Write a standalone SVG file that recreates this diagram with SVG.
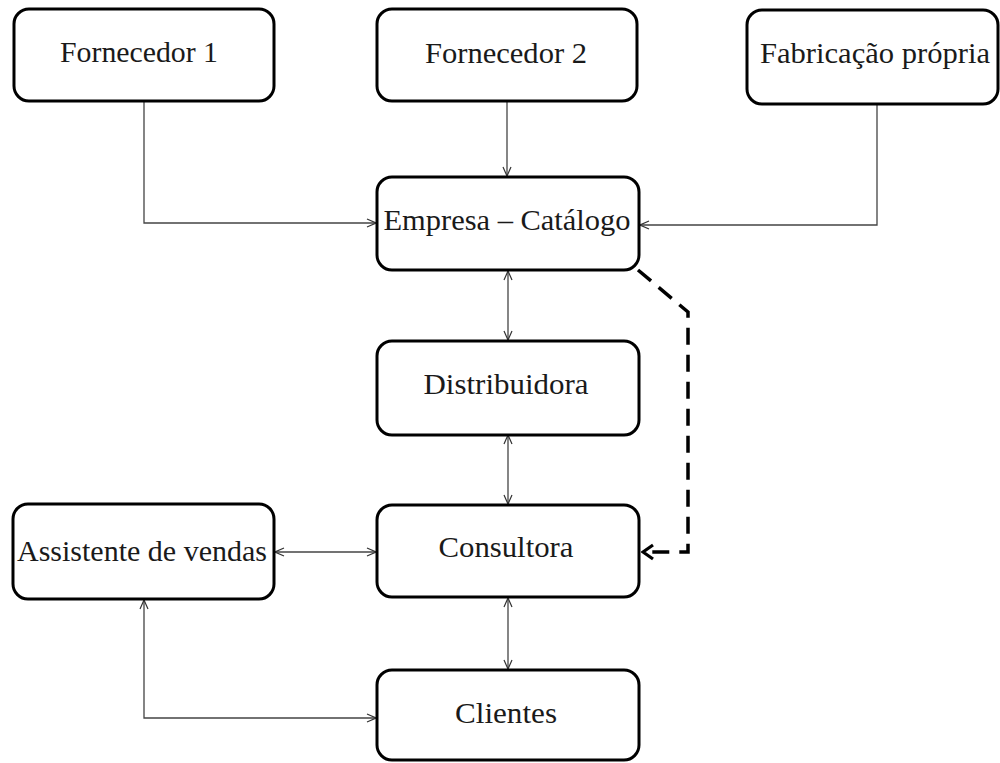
<svg xmlns="http://www.w3.org/2000/svg" width="1000" height="763" viewBox="0 0 1000 763">
<style>
.box{fill:#fff;stroke:#000;stroke-width:3}
.lbl{font-family:"Liberation Serif","Times New Roman",serif;font-size:30px;fill:#1a1a1a;text-anchor:middle}
.c{fill:none;stroke:#444;stroke-width:1.3}
.d{fill:none;stroke:#000;stroke-width:3.5;stroke-dasharray:17 10}
</style>
<defs>
<marker id="a" viewBox="0 0 10 10" refX="10" refY="5" markerWidth="10" markerHeight="10" markerUnits="userSpaceOnUse" orient="auto-start-reverse">
<path d="M1,1 L10,5 L1,9" fill="none" stroke="#333" stroke-width="1.2"/>
</marker>
<marker id="b" viewBox="0 0 14 18" refX="12" refY="9" markerWidth="14" markerHeight="18" markerUnits="userSpaceOnUse" orient="auto">
<path d="M2,2 L12,9 L2,16" fill="none" stroke="#000" stroke-width="3.2"/>
</marker>
</defs>
<rect width="1000" height="763" fill="#fff"/>
<g id="connectors">
<polyline class="c" points="144,101 144,223 376,223" marker-end="url(#a)"/>
<line class="c" x1="507" y1="101" x2="507" y2="176" marker-end="url(#a)"/>
<polyline class="c" points="877,104 877,225 640,225" marker-end="url(#a)"/>
<line class="c" x1="508" y1="271" x2="508" y2="340" marker-start="url(#a)" marker-end="url(#a)"/>
<line class="c" x1="508" y1="435" x2="508" y2="504" marker-start="url(#a)" marker-end="url(#a)"/>
<line class="c" x1="275" y1="552" x2="376" y2="552" marker-start="url(#a)" marker-end="url(#a)"/>
<polyline class="c" points="144,600 144,718 376,718" marker-start="url(#a)" marker-end="url(#a)"/>
<line class="c" x1="508" y1="598" x2="508" y2="669" marker-start="url(#a)" marker-end="url(#a)"/>
<polyline class="d" points="638,270 688,312 688,552 643,552" marker-end="url(#b)"/>
</g>
<g id="n1"><rect class="box" x="14" y="9" width="260" height="92" rx="15"/><text class="lbl" x="139" y="62" textLength="158" lengthAdjust="spacingAndGlyphs">Fornecedor 1</text></g>
<g id="n2"><rect class="box" x="377" y="9" width="260" height="92" rx="15"/><text class="lbl" x="506" y="63" textLength="162" lengthAdjust="spacingAndGlyphs">Fornecedor 2</text></g>
<g id="n3"><rect class="box" x="747" y="10" width="251" height="94" rx="15"/><text class="lbl" x="875" y="63" textLength="230" lengthAdjust="spacingAndGlyphs">Fabricação própria</text></g>
<g id="n4"><rect class="box" x="377" y="177" width="262" height="93" rx="15"/><text class="lbl" x="507" y="230" textLength="247" lengthAdjust="spacingAndGlyphs">Empresa – Catálogo</text></g>
<g id="n5"><rect class="box" x="377" y="341" width="262" height="94" rx="15"/><text class="lbl" x="506" y="394" textLength="165" lengthAdjust="spacingAndGlyphs">Distribuidora</text></g>
<g id="n6"><rect class="box" x="377" y="505" width="262" height="92" rx="15"/><text class="lbl" x="506" y="557" textLength="135" lengthAdjust="spacingAndGlyphs">Consultora</text></g>
<g id="n7"><rect class="box" x="13" y="504" width="261" height="95" rx="15"/><text class="lbl" x="142" y="561" textLength="250" lengthAdjust="spacingAndGlyphs">Assistente de vendas</text></g>
<g id="n8"><rect class="box" x="377" y="670" width="262" height="90" rx="15"/><text class="lbl" x="506" y="723" textLength="102" lengthAdjust="spacingAndGlyphs">Clientes</text></g>
</svg>
